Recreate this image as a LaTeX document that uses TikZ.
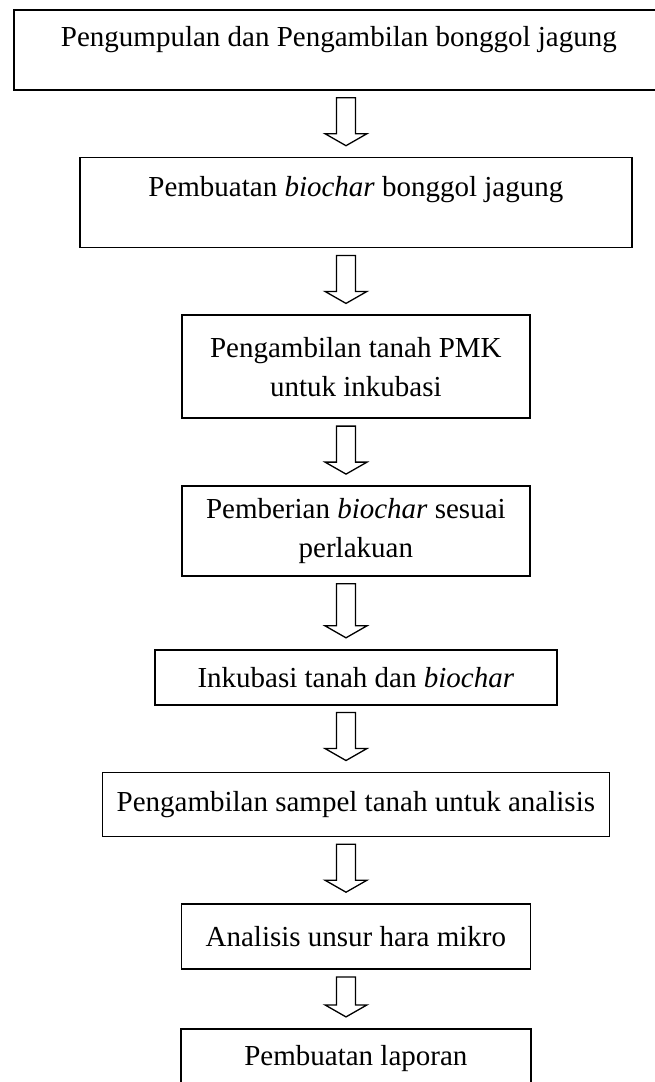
\documentclass[tikz,border=0pt]{standalone}
\usepackage{fontspec}
\setmainfont{Liberation Serif}
\usetikzlibrary{positioning,calc}

\begin{document}
\begin{tikzpicture}[
  node distance=66pt,
  box/.style={draw,line width=1.7pt,align=center,inner sep=0pt,font=\fontsize{29}{39}\selectfont},
  blockarr/.style={draw,line width=1.3pt,fill=white,
    to path={let \p1=($(\tikztostart)+(0,-7pt)$), \p2=($(\tikztotarget)+(0,11pt)$) in
      (\x1-9.5pt,\y1) -- (\x1+9.5pt,\y1) -- (\x1+9.5pt,\y2+12pt) -- (\x1+21pt,\y2+12pt)
      -- (\x1,\y2) -- (\x1-21pt,\y2+12pt) -- (\x1-9.5pt,\y2+12pt) -- cycle}}
]
\useasboundingbox (0,0) rectangle (654pt,-1082pt);
\coordinate (axis) at (346pt,0);
\node[box,minimum width=650pt,text height=37pt,text depth=43pt,anchor=north west] (b1) at (13pt,-9pt) {Pengumpulan dan Pengambilan bonggol jagung};
\node[box,minimum width=552pt,text height=39pt,text depth=51pt,below=of b1,xshift=17pt] (b2) {Pembuatan \textit{biochar} bonggol jagung};
\node[box,minimum width=348pt,minimum height=103pt,below=of b2] (b3) {Pengambilan tanah PMK\\untuk inkubasi};
\node[box,minimum width=348pt,minimum height=90pt,below=of b3] (b4) {Pemberian \textit{biochar} sesuai\\perlakuan};
\node[box,minimum width=402pt,minimum height=55pt,below=72pt of b4] (b5) {Inkubasi tanah dan \textit{biochar}};
\node[box,minimum width=507pt,minimum height=64pt,below=of b5] (b6) {Pengambilan sampel tanah untuk analisis};
\node[box,minimum width=349pt,minimum height=65pt,below=of b6] (b7) {Analisis unsur hara mikro};
\node[box,minimum width=350pt,minimum height=60pt,below=58pt of b7] (b8) {Pembuatan laporan};
\draw[blockarr] (b1.south -| axis) to (b2.north -| axis);
\draw[blockarr] (b2.south -| axis) to (b3.north -| axis);
\draw[blockarr] (b3.south -| axis) to (b4.north -| axis);
\draw[blockarr] (b4.south -| axis) to (b5.north -| axis);
\draw[blockarr] (b5.south -| axis) to (b6.north -| axis);
\draw[blockarr] (b6.south -| axis) to (b7.north -| axis);
\draw[blockarr] (b7.south -| axis) to (b8.north -| axis);
\end{tikzpicture}
\end{document}
